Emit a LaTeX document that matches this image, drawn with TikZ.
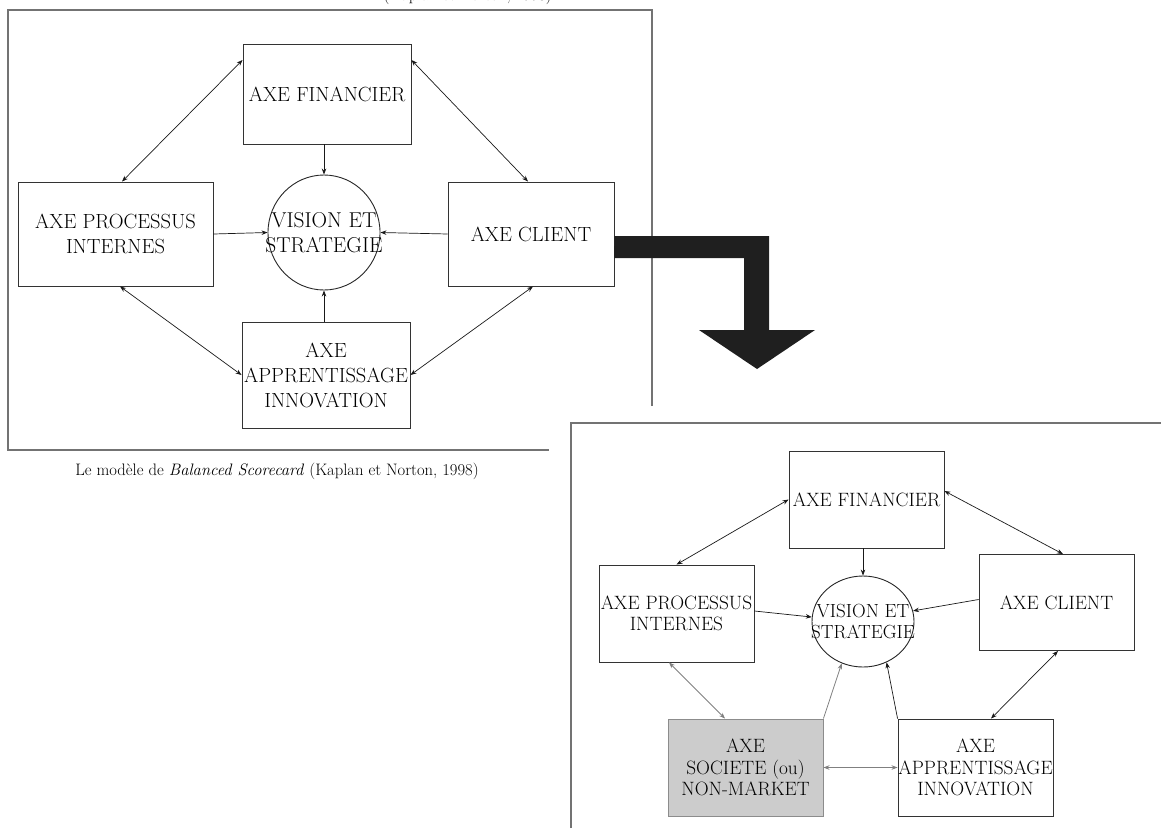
\documentclass[tikz,border=0pt]{standalone}
\usetikzlibrary{arrows.meta,shapes.geometric,calc}
\begin{document}
\begin{tikzpicture}[x=1pt,y=-1pt,
  frame/.style={draw=black!55, line width=1.4pt},
  boxA/.style={draw=black!80, line width=0.9pt, rectangle, align=center, inner sep=0pt,
     font=\fontsize{20.5}{25}\selectfont},
  boxB/.style={draw=black!80, line width=0.9pt, rectangle, align=center, inner sep=0pt,
     font=\fontsize{19.3}{21.5}\selectfont},
  oval/.style={draw=black!85, line width=0.9pt, ellipse, inner sep=0pt},
  ovaltextA/.style={align=center, inner sep=0pt, font=\fontsize{21.5}{25}\selectfont},
  ovaltextB/.style={align=center, inner sep=0pt, font=\fontsize{19}{20.5}\selectfont},
  arr/.style={draw=black!90, line width=0.7pt, -{Stealth[length=6pt,width=4.5pt]}},
  darr/.style={draw=black!90, line width=0.7pt, {Stealth[length=6pt,width=4.5pt]}-{Stealth[length=6pt,width=4.5pt]}},
  garr/.style={draw=black!50, line width=0.8pt, -{Stealth[length=6pt,width=4.5pt]}},
  gdarr/.style={draw=black!50, line width=0.8pt, {Stealth[length=6pt,width=4.5pt]}-{Stealth[length=6pt,width=4.5pt]}},
  bigarrow/.style={fill=black!88, draw=none}
]
\useasboundingbox (0,0) rectangle (1161,828);

% clipped title remnant at the top (only its descenders show)
\begin{scope}
\clip (0,0) rectangle (1161,828);
\node[anchor=base east, inner sep=0pt, font=\fontsize{16.5}{19}\selectfont] (title) at (552,0) {(Kaplan et Norton, 1998)};
\end{scope}

% upper frame
\draw[frame] (652,406) -- (652,10) -- (8,10) -- (8,450) -- (549,450);

% upper diagram
\node[boxA, minimum width=168pt, minimum height=100pt] (fin1) at (327,94) {AXE FINANCIER};
\node[oval, minimum width=112pt, minimum height=115pt] (circ1) at (324,232.5) {};
\node[ovaltextA] (circ1t) at (circ1.center) {VISION ET\\STRATEGIE};
\node[boxA, minimum width=195pt, minimum height=104pt] (proc1) at (115.5,234) {AXE PROCESSUS\\INTERNES};
\node[boxA, minimum width=166pt, minimum height=104pt] (cli1) at (531,234) {AXE CLIENT};
\node[boxA, minimum width=168pt, minimum height=106pt] (app1) at (326,375) {AXE\\APPRENTISSAGE\\INNOVATION};

\draw[arr] (fin1.south -| circ1.north) -- (circ1.north);
\draw[arr] (proc1.east) -- (circ1.west);
\draw[arr] (cli1.west) -- (circ1.east);
\draw[arr] (app1.north -| circ1.south) -- (circ1.south);
\draw[darr] ([xshift=6.5pt]proc1.north) -- ([yshift=34pt]fin1.west);
\draw[darr] ([yshift=34pt]fin1.east) -- ([xshift=-3pt]cli1.north);
\draw[darr] ([xshift=4.5pt]proc1.south) -- (app1.west);
\draw[darr] ([xshift=2pt]cli1.south) -- (app1.east);

\node[anchor=center, inner sep=0pt, font=\fontsize{16.6}{19}\selectfont] (cap) at (277,471)
  {Le modèle de \textit{Balanced Scorecard} (Kaplan et Norton, 1998)};

% big bent arrow
\fill[bigarrow] ($(cli1.east)+(0,2)$) coordinate (ba0) -- (769,236) -- (769,330) -- (815,330) -- (757,369)
  -- (699,330) -- (744,330) -- (744,258) -- (614,258) -- cycle;

% lower frame
\draw[frame] (571,828) -- (571,423) -- (1161,423);

% lower diagram
\node[boxB, minimum width=155pt, minimum height=97pt] (fin2) at (866.5,499.5) {AXE FINANCIER};
\node[oval, minimum width=102pt, minimum height=91pt] (circ2) at (863,621.5) {};
\node[ovaltextB] (circ2t) at (circ2.center) {VISION ET\\STRATEGIE};
\node[boxB, minimum width=155pt, minimum height=97pt] (proc2) at (676.5,613.5) {AXE PROCESSUS\\INTERNES};
\node[boxB, minimum width=155pt, minimum height=96pt] (cli2) at (1056.5,602.5) {AXE CLIENT};
\node[boxB, draw=black!45, fill=black!20, minimum width=155pt, minimum height=97pt] (soc2) at (745.5,767.5) {AXE\\SOCIETE (ou)\\NON-MARKET};
\node[boxB, minimum width=155pt, minimum height=97pt] (app2) at (975.5,767.5) {AXE\\APPRENTISSAGE\\INNOVATION};

\draw[arr] (fin2.south -| circ2.north) -- (circ2.north);
\draw[arr] ([yshift=2.5pt]proc2.east) -- (circ2.175);
\draw[arr] ([yshift=3pt]cli2.west) -- (circ2.12);
\draw[arr] (app2.north west) -- (circ2.-60);
\draw[garr] (soc2.north east) -- (circ2.-117);
\draw[gdarr] ([xshift=-7.5pt]proc2.south) -- ([xshift=-20.5pt]soc2.north);
\draw[gdarr] (soc2.east) -- (app2.west);
\draw[darr] (proc2.north) -- (fin2.west);
\draw[darr] ([yshift=8.5pt]fin2.east) -- ([xshift=6.5pt]cli2.north);
\draw[darr] ([xshift=1.5pt]cli2.south) -- ([xshift=15.5pt]app2.north);
\end{tikzpicture}
\end{document}
